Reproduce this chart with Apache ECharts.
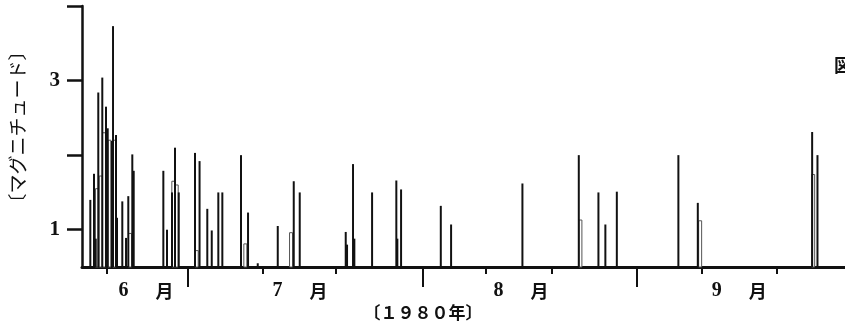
<!DOCTYPE html>
<html>
<head>
<meta charset="utf-8">
<script src="https://cdn.jsdelivr.net/npm/echarts@6/dist/echarts.min.js"></script>
<style>
  html, body { margin: 0; padding: 0; background: #fff; }
  #chart { width: 845px; height: 333px; }
</style>
</head>
<body>
<div id="chart"></div>
<script>
// days counted from 1980-06-01 (day 0), magnitude
var solidDays = [6.64, 7.14, 7.38, 7.73, 8.28, 8.79, 9.02, 9.57, 9.75, 10.16, 10.29, 11.02, 11.53, 11.84, 12.39, 12.58,
  16.64, 17.14, 17.83, 18.24, 18.75, 20.98, 21.60, 22.66, 23.27, 24.17, 24.72, 27.28, 28.24, 29.57, 32.31, 34.50, 35.32,
  41.62, 41.80, 42.62, 42.80, 45.23, 48.55, 48.69, 49.20, 54.64, 56.05, 65.82, 73.54, 76.23, 77.18, 78.75,
  87.18, 89.84, 105.50, 106.23]
var solidMags = [1.40, 1.75, 0.88, 2.84, 3.04, 2.65, 2.36, 2.19, 3.73, 2.27, 1.16, 1.38, 0.89, 1.45, 2.01, 1.79,
  1.79, 1.00, 1.50, 2.10, 1.50, 2.03, 1.92, 1.28, 0.99, 1.50, 1.50, 2.00, 1.23, 0.55, 1.05, 1.65, 1.50,
  0.97, 0.80, 1.88, 0.88, 1.50, 1.66, 0.88, 1.54, 1.32, 1.07, 1.62, 2.00, 1.50, 1.07, 1.51,
  2.00, 1.36, 2.31, 2.00]

// open (outlined) marks
var hollowDays = [7.55, 8.06, 8.51, 9.27, 9.92, 12.08, 18.01, 18.47, 21.21, 27.87, 34.13, 73.76, 90.16, 105.64]
var hollowMags = [1.55, 1.72, 2.30, 2.20, 2.20, 0.95, 1.65, 1.60, 0.72, 0.81, 0.96, 1.13, 1.12, 1.74]

var shortTicks = [8.9, 30.2, 40.2, 60.8, 69.8, 90.4, 100.6]
var longTicks = [20.0, 52.2, 81.5]
var monthPos = [14.27, 35.36, 65.64, 95.5]
var monthNames = ['6', '7', '8', '9']

var yTicks = [1, 2, 3, 4]
var yLabels = [1, 3]
var yMin = 0.5
var yMax = 4
var xMin = 5.5
var xMax = 110

var serif = "'Liberation Serif', 'Noto Sans CJK JP', serif"
var cjk = "'Noto Sans CJK JP', sans-serif"

function pairs(xs, ys) {
  var out = []
  for (var i = 0; i < xs.length; i++) out.push([xs[i], ys[i]])
  return out
}

function renderSolid(params, api) {
  var top = api.coord([api.value(0), api.value(1)])
  var base = api.coord([api.value(0), yMin])
  return {
    type: 'line',
    shape: { x1: top[0], y1: top[1], x2: base[0], y2: base[1] },
    style: { stroke: '#111', lineWidth: 2 }
  }
}

function renderHollow(params, api) {
  var top = api.coord([api.value(0), api.value(1)])
  var base = api.coord([api.value(0), yMin])
  return {
    type: 'rect',
    shape: { x: top[0] - 1.5, y: top[1], width: 3, height: base[1] - top[1] },
    style: { fill: '#fff', stroke: '#555', lineWidth: 1 }
  }
}

var chart = echarts.init(document.getElementById('chart'))
chart.setOption({
  backgroundColor: '#ffffff',
  animation: false,
  grid: { left: 82, right: 0, top: 6, bottom: 66 },
  xAxis: [{
    type: 'value',
    min: xMin,
    max: xMax,
    splitLine: { show: false },
    axisLine: { show: true, lineStyle: { color: '#111', width: 3 } },
    axisTick: { show: true, length: 7, customValues: shortTicks, lineStyle: { color: '#111', width: 2 } },
    axisLabel: {
      show: true,
      customValues: monthPos,
      margin: 14,
      formatter: function (v) {
        var best = 0
        for (var i = 1; i < monthPos.length; i++) {
          if (Math.abs(monthPos[i] - v) < Math.abs(monthPos[best] - v)) best = i
        }
        return '{n|' + monthNames[best] + '}{m|月}'
      },
      rich: {
        n: { fontFamily: serif, fontSize: 20, fontWeight: 'bold', color: '#111', width: 37, align: 'left' },
        m: { fontFamily: cjk, fontSize: 18, fontWeight: 'bold', color: '#111' }
      }
    }
  }, {
    type: 'value',
    position: 'bottom',
    min: xMin,
    max: xMax,
    splitLine: { show: false },
    axisLine: { show: false },
    axisTick: { show: true, length: 20, customValues: longTicks, lineStyle: { color: '#111', width: 2 } },
    axisLabel: { show: false }
  }],
  yAxis: {
    type: 'value',
    min: yMin,
    max: yMax,
    splitLine: { show: false },
    axisLine: { show: true, lineStyle: { color: '#111', width: 2.5 } },
    axisTick: { show: true, length: 15, customValues: yTicks, lineStyle: { color: '#111', width: 2.5 } },
    axisLabel: {
      customValues: yLabels,
      margin: 22,
      fontFamily: serif,
      fontSize: 21,
      fontWeight: 'bold',
      color: '#111'
    }
  },
  graphic: [{
    type: 'text',
    x: 18,
    y: 127,
    rotation: Math.PI / 2,
    style: {
      text: '〔マグニチュード〕',
      font: "19px 'Noto Sans CJK JP'",
      fill: '#111',
      textAlign: 'center',
      textVerticalAlign: 'middle',
      align: 'center',
      verticalAlign: 'middle'
    }
  }, {
    type: 'text',
    x: 423,
    y: 313,
    style: {
      text: '〔１９８０年〕',
      font: "bold 17px 'Noto Sans CJK JP'",
      fill: '#111',
      textAlign: 'center',
      textVerticalAlign: 'middle',
      align: 'center',
      verticalAlign: 'middle'
    }
  }, {
    type: 'text',
    x: 834,
    y: 65,
    style: {
      text: '図',
      font: "bold 18px 'Noto Sans CJK JP'",
      fill: '#111',
      textAlign: 'left',
      textVerticalAlign: 'middle',
      align: 'left',
      verticalAlign: 'middle'
    }
  }],
  series: [{
    name: 'hollow',
    type: 'custom',
    renderItem: renderHollow,
    data: pairs(hollowDays, hollowMags)
  }, {
    name: 'solid',
    type: 'custom',
    renderItem: renderSolid,
    data: pairs(solidDays, solidMags)
  }]
})
</script>
</body>
</html>
